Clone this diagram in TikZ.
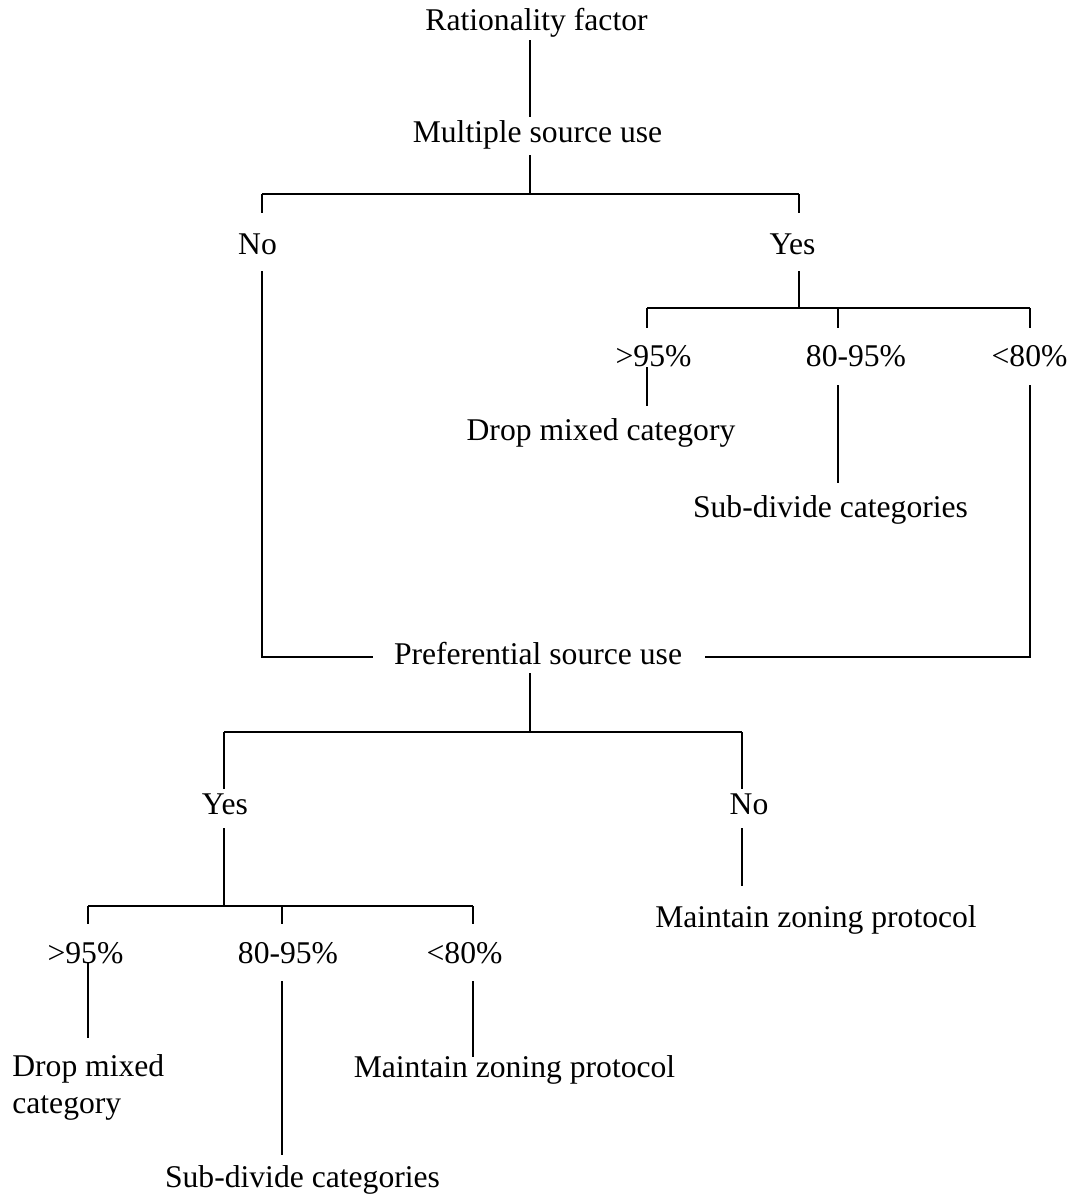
\documentclass[tikz,border=0pt]{standalone}
\usepackage{fontspec}
\setmainfont{Liberation Serif}
\tikzset{
	txt/.style={inner sep=0pt, font=\fontsize{18}{20.5}\selectfont},
	lbl/.style={txt, anchor=base, text height=11.4pt, text depth=3.4pt},
	link/.style={line width=0.9pt},
}
\begin{document}
\begin{tikzpicture}[x=0.02cm, y=-0.02cm]
	\useasboundingbox (0,0) rectangle (1072,1196);

	%labels, placed on their baselines
	\node[lbl] (rf) at (536.5,31) {Rationality factor};
	\node[lbl] (msu) at (537.5,143) {Multiple source use};
	\node[lbl] (no1) at (257.5,255) {No};
	\node[lbl] (yes1) at (792.5,255) {Yes};
	\node[lbl] (hi1) at (653.5,366) {>95\%};
	\node[lbl] (mid1) at (856,366) {80-95\%};
	\node[lbl] (lo1) at (1029.5,366) {<80\%};
	\node[lbl] (drop1) at (601,440) {Drop mixed category};
	\node[lbl] (sub1) at (830.5,517) {Sub-divide categories};
	\node[lbl] (psu) at (538,664) {Preferential source use};
	\node[lbl] (yes2) at (225,814) {Yes};
	\node[lbl] (no2) at (749,814) {No};
	\node[lbl] (keep2) at (816,927) {Maintain zoning protocol};
	\node[lbl] (hi2) at (85.5,963) {>95\%};
	\node[lbl] (mid2) at (288,963) {80-95\%};
	\node[lbl] (lo2) at (464.5,963) {<80\%};
	\node[txt, anchor=base west, align=left] (drop2) at (12,1113) {Drop mixed\\category};
	\node[lbl] (keep3) at (514.5,1077) {Maintain zoning protocol};
	\node[lbl] (sub2) at (302.5,1187) {Sub-divide categories};

	%branch points
	\coordinate (j1) at (530,194);
	\coordinate (j1l) at (262,194);
	\coordinate (j1r) at (799,194);
	\coordinate (j2) at (799,308);
	\coordinate (j2l) at (647,308);
	\coordinate (j2m) at (838,308);
	\coordinate (j2r) at (1030,308);
	\coordinate (j3) at (530,732);
	\coordinate (j3l) at (224,732);
	\coordinate (j3r) at (742,732);
	\coordinate (j4) at (224,906);
	\coordinate (j4l) at (88,906);
	\coordinate (j4m) at (282,906);
	\coordinate (j4r) at (473,906);

	%multiple source use
	\draw[link, shorten <=1.7pt, shorten >=3.4pt] (rf.south -| j1) -- (msu.north -| j1);
	\draw[link, shorten <=3.4pt] (msu.south -| j1) -- (j1);
	\draw[link] (j1l) -- (j1r);
	\draw[link, shorten >=12.5pt] (j1l) -- (no1.north -| j1l);
	\draw[link, shorten >=12.5pt] (j1r) -- (yes1.north -| j1r);

	\draw[link, shorten <=5.7pt] (yes1.south -| j2) -- (j2);
	\draw[link] (j2l) -- (j2r);
	\foreach \j/\n in {j2l/hi1, j2m/mid1, j2r/lo1}
		\draw[link, shorten >=10pt] (\j) -- (\n.north -| \j);
	\draw[link, shorten <=-2.8pt, shorten >=8pt] (hi1.south -| j2l) -- (drop1.north -| j2l);
	\draw[link, shorten <=7.4pt, shorten >=8pt] (mid1.south -| j2m) -- (sub1.north -| j2m);

	%into preferential source use
	\draw[link, shorten <=5.7pt, shorten >=12pt] (no1.south -| j1l) |- (psu.west);
	\draw[link, shorten <=7.4pt, shorten >=13pt] (lo1.south -| j2r) |- (psu.east);

	%preferential source use
	\draw[link, shorten <=1.7pt] (psu.south -| j3) -- (j3);
	\draw[link] (j3l) -- (j3r);
	\draw[link, shorten >=2.8pt] (j3l) -- (yes2.north -| j3l);
	\draw[link, shorten >=2.8pt] (j3r) -- (no2.north -| j3r);
	\draw[link, shorten <=4.5pt, shorten >=12pt] (no2.south -| j3r) -- (keep2.north -| j3r);

	\draw[link, shorten <=4.5pt] (yes2.south -| j4) -- (j4);
	\draw[link] (j4l) -- (j4r);
	\foreach \j/\n in {j4l/hi2, j4m/mid2, j4r/lo2}
		\draw[link, shorten >=10.8pt] (\j) -- (\n.north -| \j);
	\draw[link, shorten <=-3.4pt, shorten >=9.3pt] (hi2.south -| j4l) -- (drop2.north -| j4l);
	\draw[link, shorten <=6.8pt, shorten >=6.8pt] (mid2.south -| j4m) -- (sub2.north -| j4m);
	\draw[link, shorten <=6.8pt] (lo2.south -| j4r) -- (keep3.north -| j4r);
\end{tikzpicture}
\end{document}
